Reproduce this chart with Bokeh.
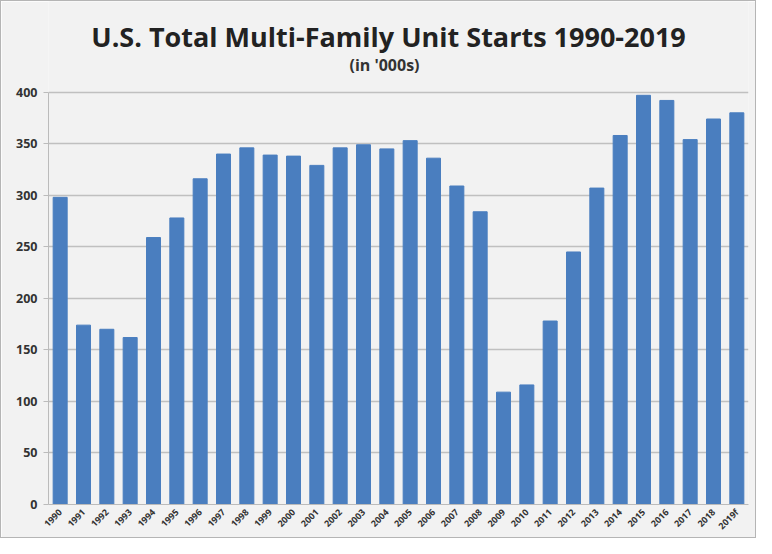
from bokeh.plotting import figure
from bokeh.models import ColumnDataSource, FactorRange, Range1d, Label, FixedTicker
from bokeh.embed import file_html
from bokeh.resources import INLINE
import math

years = ["1990", "1991", "1992", "1993", "1994", "1995", "1996", "1997", "1998", "1999",
         "2000", "2001", "2002", "2003", "2004", "2005", "2006", "2007", "2008", "2009",
         "2010", "2011", "2012", "2013", "2014", "2015", "2016", "2017", "2018", "2019f"]
starts = [298, 174, 170, 162, 259, 278, 316, 340, 346, 339,
          338, 329, 346, 349, 345, 353, 336, 309, 284, 109,
          116, 178, 245, 307, 358, 397, 392, 354, 374, 380]
y_ticks = [0, 50, 100, 150, 200, 250, 300, 350, 400]

title_text = "U.S. Total Multi-Family Unit Starts 1990-2019"
subtitle_text = "(in '000s)"

y_axis_max = 400
y_view_max = 488  # headroom above the axis for the title block

src = ColumnDataSource(dict(year=years, starts=starts))

p = figure(width=756, height=538, x_range=FactorRange(*years, range_padding=0),
           y_range=Range1d(0, y_view_max), output_backend="svg", toolbar_location=None,
           min_border_left=47, min_border_right=9, min_border_bottom=33,
           min_border_top=0)
p.vbar(x="year", top="starts", width=0.6, source=src, color="#4a7ebf")

p.title = None
p.add_layout(Label(x=340, y=y_axis_max, x_units="screen", y_units="data", y_offset=56,
                   text=title_text, text_align="center", text_baseline="middle",
                   text_font="Open Sans", text_font_size="27px", text_font_style="bold",
                   text_color="#222222"))
p.add_layout(Label(x=336, y=y_axis_max, x_units="screen", y_units="data", y_offset=27,
                   text=subtitle_text, text_align="center", text_baseline="middle",
                   text_font="Open Sans", text_font_size="16px", text_font_style="bold",
                   text_color="#333333"))

p.background_fill_color = "#f2f2f2"
p.border_fill_color = "#f2f2f2"
p.outline_line_color = None
p.styles = {"border": "1px solid #b5b5b5"}

p.yaxis.ticker = FixedTicker(ticks=y_ticks)
p.yaxis.bounds = (0, y_axis_max)
p.yaxis.major_label_text_font = "Open Sans"
p.yaxis.major_label_text_font_style = "bold"
p.yaxis.major_label_text_font_size = "12.5px"
p.yaxis.major_label_text_color = "#333333"
p.yaxis.axis_line_color = "#bbbbbb"
p.yaxis.major_tick_line_color = "#bbbbbb"
p.yaxis.major_tick_out = 5
p.yaxis.major_tick_in = 0
p.yaxis.minor_tick_line_color = None
p.yaxis.major_label_standoff = 6

p.xaxis.major_label_orientation = math.pi / 4
p.xaxis.major_label_text_font = "Open Sans"
p.xaxis.major_label_text_font_style = "bold"
p.xaxis.major_label_text_font_size = "9px"
p.xaxis.major_label_text_color = "#333333"
p.xaxis.axis_line_color = "#bbbbbb"
p.xaxis.major_tick_line_color = None
p.xaxis.major_label_standoff = 0

p.xgrid.grid_line_color = None
p.ygrid.grid_line_color = "#c0c0c0"
p.ygrid.grid_line_width = 1.5

open("out.html", "w").write(file_html(p, INLINE))
